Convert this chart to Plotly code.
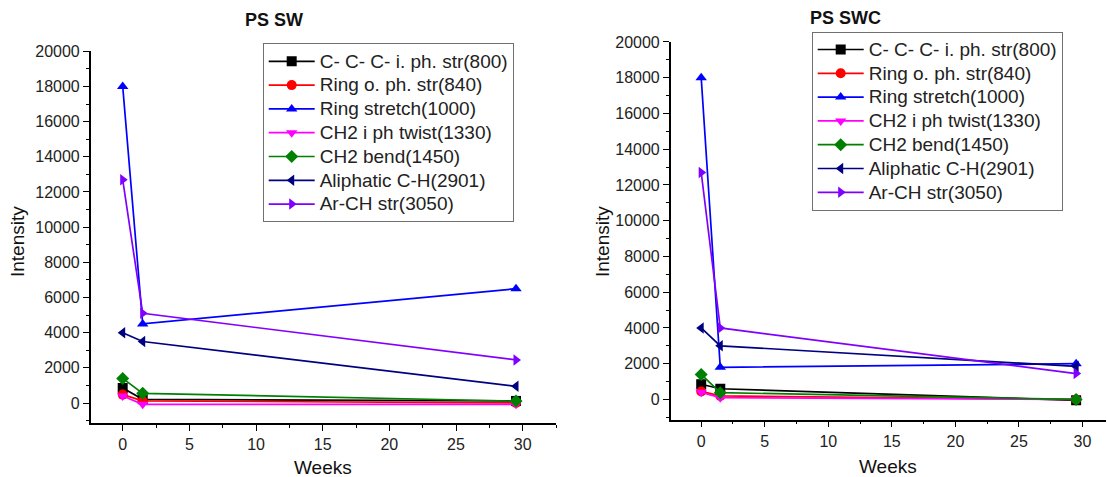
import plotly.graph_objects as go

# Sampling times (weeks)
weeks = [0, 1.5, 29.5]

# Band names (Raman shift in cm-1)
bands = [
    "C- C- C- i. ph. str(800)",
    "Ring o. ph. str(840)",
    "Ring stretch(1000)",
    "CH2 i ph twist(1330)",
    "CH2 bend(1450)",
    "Aliphatic C-H(2901)",
    "Ar-CH str(3050)",
]

# PS SW intensities
sw_ccc = [850, 210, 120]
sw_ring_oph = [480, 120, 10]
sw_ring_str = [18000, 4500, 6500]
sw_ch2_twist = [400, -70, -70]
sw_ch2_bend = [1400, 550, 110]
sw_aliph = [4000, 3500, 950]
sw_arch = [12700, 5100, 2450]

# PS SWC intensities
swc_ccc = [850, 600, -50]
swc_ring_oph = [450, 200, 0]
swc_ring_str = [18000, 1800, 2000]
swc_ch2_twist = [400, 100, 0]
swc_ch2_bend = [1400, 380, 0]
swc_aliph = [4000, 3000, 1850]
swc_arch = [12700, 4000, 1450]

colors = ["#000000", "#FF0000", "#0000FF", "#FF00FF", "#008000", "#000080", "#8000FF"]
symbols = ["square", "circle", "triangle-up", "triangle-down", "diamond",
           "triangle-left", "triangle-right"]

sw_series = [sw_ccc, sw_ring_oph, sw_ring_str, sw_ch2_twist, sw_ch2_bend, sw_aliph, sw_arch]
swc_series = [swc_ccc, swc_ring_oph, swc_ring_str, swc_ch2_twist, swc_ch2_bend, swc_aliph, swc_arch]

W, H = 1107, 477
FONT = "Liberation Sans, Arial, sans-serif"

# Legend rows are spaced by the legend font size; the label text itself is drawn a bit larger
LEGEND_ROW_FONT = 16.0
LEGEND_TEXT_SIZE = 19


def legend_label(name):
    return f'<span style="font-size:{LEGEND_TEXT_SIZE}px">{name}</span>'


fig = go.Figure()

for name, vals, c, s in zip(bands, sw_series, colors, symbols):
    fig.add_trace(go.Scatter(
        x=weeks, y=vals, name=legend_label(name), mode="lines+markers",
        line=dict(color=c, width=1.7), marker=dict(color=c, symbol=s, size=10),
        xaxis="x", yaxis="y", legend="legend",
    ))

for name, vals, c, s in zip(bands, swc_series, colors, symbols):
    fig.add_trace(go.Scatter(
        x=weeks, y=vals, name=legend_label(name), mode="lines+markers",
        line=dict(color=c, width=1.7), marker=dict(color=c, symbol=s, size=10),
        xaxis="x2", yaxis="y2", legend="legend2",
    ))


def px_x(p):
    return p / W


def px_y(p):
    return (H - p) / H


axis_common = dict(
    showline=True, linecolor="#000000", linewidth=1.5,
    ticks="outside", ticklen=6, tickwidth=1.3, tickcolor="#000000",
    showgrid=False, zeroline=False, tickformat="d",
    tickfont=dict(family=FONT, size=16, color="#222222"),
)

minor_common = dict(ticks="outside", ticklen=3, tickcolor="#000000", tickwidth=1.2)

legend_common = dict(
    xanchor="left", yanchor="top",
    bordercolor="#707070", borderwidth=1, bgcolor="white",
    font=dict(family=FONT, size=LEGEND_ROW_FONT, color="#222222"),
    tracegroupgap=0, itemwidth=46,
)

fig.update_layout(
    width=W, height=H,
    margin=dict(l=0, r=0, t=0, b=0),
    paper_bgcolor="white", plot_bgcolor="white",
    font=dict(family=FONT, color="#222222"),
    xaxis=dict(domain=[px_x(90.7), px_x(556)], range=[-2.4, 32.5], anchor="y",
               dtick=5, minor=dict(dtick=2.5, **minor_common), **axis_common),
    yaxis=dict(domain=[px_y(422), px_y(44)], range=[-1130, 20000], anchor="x",
               dtick=2000, minor=dict(dtick=1000, **minor_common), **axis_common),
    xaxis2=dict(domain=[px_x(670.7), px_x(1106)], range=[-2.4, 31.85], anchor="y2",
                dtick=5, minor=dict(dtick=2.5, **minor_common), **axis_common),
    yaxis2=dict(domain=[px_y(418.6), px_y(34.5)], range=[-1125, 20000], anchor="x2",
                dtick=2000, minor=dict(dtick=1000, **minor_common), **axis_common),
    legend=dict(x=px_x(262.7), y=px_y(36), **legend_common),
    legend2=dict(x=px_x(811.7), y=px_y(24), **legend_common),
)

annotations = [
    dict(text="<b>PS SW</b>", x=px_x(274), y=px_y(12), size=18),
    dict(text="<b>PS SWC</b>", x=px_x(845), y=px_y(10), size=18),
    dict(text="Weeks", x=px_x(323), y=px_y(467), size=19),
    dict(text="Weeks", x=px_x(888), y=px_y(466), size=19),
    dict(text="Intensity", x=px_x(17), y=px_y(238), size=19, angle=-90),
    dict(text="Intensity", x=px_x(602), y=px_y(238), size=19, angle=-90),
]
for a in annotations:
    fig.add_annotation(
        text=a["text"], x=a["x"], y=a["y"], xref="paper", yref="paper",
        xanchor="center", yanchor="middle", showarrow=False,
        textangle=a.get("angle", 0),
        font=dict(family=FONT, size=a.get("size", 16), color="#111111"),
    )

fig.write_html("out.html")
